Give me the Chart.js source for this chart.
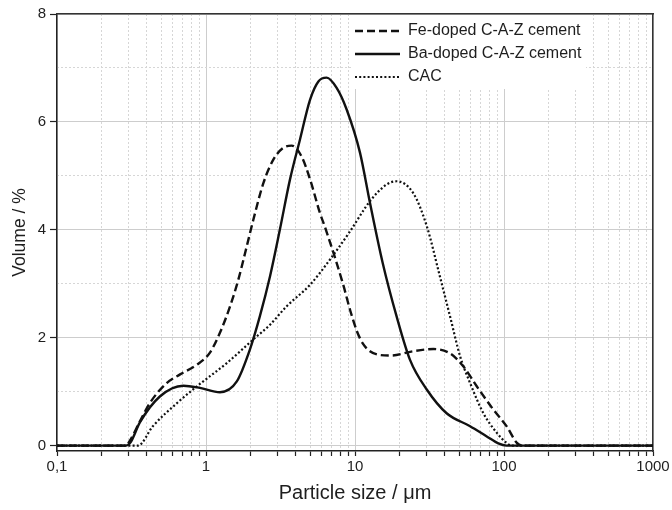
<!DOCTYPE html>
<html><head><meta charset="utf-8">
<script src="https://cdn.jsdelivr.net/npm/chart.js@4.4.1/dist/chart.umd.min.js"></script>
<style>html,body{margin:0;padding:0;background:#fff}#wrap{width:672px;height:510px}</style>
</head><body><div id="wrap"><canvas id="c" width="672" height="510"></canvas></div>
<script>
// ---- data (particle size in µm, volume in %) ----
const seriesLabels = ['Fe-doped C-A-Z cement', 'Ba-doped C-A-Z cement', 'CAC'];

const feSize   = [0.1, 0.29, 0.31, 0.36, 0.42, 0.545, 0.67, 0.87, 1.06, 1.24, 1.45, 1.65, 1.83, 2.08, 2.43, 2.83, 3.3, 3.76, 4.38, 5.0, 5.82, 6.38, 8.3, 9.3, 10.3, 11.3, 12.6, 14.7, 17.5, 24.6, 33.6, 43.4, 53.3, 65.6, 84.7, 104, 122, 132, 1000];
const feVolume = [0, 0, 0.1, 0.45, 0.79, 1.16, 1.32, 1.5, 1.72, 2.09, 2.58, 3.08, 3.57, 4.19, 4.87, 5.3, 5.52, 5.56, 5.36, 4.93, 4.31, 4.0, 3.0, 2.5, 2.12, 1.89, 1.75, 1.68, 1.67, 1.75, 1.79, 1.71, 1.47, 1.1, 0.67, 0.36, 0.05, 0, 0];

const baSize   = [0.1, 0.29, 0.31, 0.36, 0.49, 0.705, 0.91, 1.24, 1.61, 1.97, 2.3, 2.69, 3.13, 3.66, 4.27, 4.99, 5.68, 6.45, 7.53, 8.79, 10.8, 12.6, 15.3, 19, 23.4, 30.3, 41.2, 59.2, 76.6, 91.6, 104, 1000];
const baVolume = [0, 0, 0.05, 0.43, 0.91, 1.11, 1.07, 0.99, 1.19, 1.78, 2.4, 3.14, 4.0, 4.93, 5.67, 6.41, 6.75, 6.82, 6.63, 6.23, 5.43, 4.5, 3.4, 2.4, 1.59, 1.04, 0.6, 0.36, 0.17, 0.04, 0, 0];

const cacSize   = [0.1, 0.35, 0.44, 0.64, 0.87, 1.38, 2.1, 2.69, 3.47, 4.99, 6.8, 9.25, 12.6, 16.3, 19, 24.6, 30.3, 37.1, 43.4, 50.7, 59.2, 72.7, 89.3, 104, 112, 1000];
const cacVolume = [0, 0, 0.36, 0.79, 1.1, 1.53, 1.98, 2.24, 2.58, 2.98, 3.45, 3.97, 4.53, 4.84, 4.9, 4.68, 4.07, 3.14, 2.4, 1.66, 1.16, 0.6, 0.24, 0.05, 0, 0];

const xMajorTicks = [0.1, 1, 10, 100, 1000];
const xTickLabels = ['0,1', '1', '10', '100', '1000'];
const yMajorTicks = [0, 2, 4, 6, 8];
const yMinorTicks = [1, 3, 5, 7];
const xTitle = 'Particle size / μm';
const yTitle = 'Volume / %';

// ---- helpers ----
const xAllTicks = [];
xMajorTicks.slice(0, -1).forEach(d => { for (let k = 1; k < 10; k++) xAllTicks.push(+(d * k).toPrecision(6)); });
xAllTicks.push(xMajorTicks[xMajorTicks.length - 1]);
const majorIndex = v => xMajorTicks.findIndex(m => Math.abs(v / m - 1) < 1e-6);
const toPoints = (xs, ys) => xs.map((x, i) => ({x, y: ys[i]}));

const TXT = '#1e1e1e';
const GRID = '#cdcdcd';
const GRID_MINOR = '#d6d6d6';
const CLEAR = 'rgba(0,0,0,0)';
Chart.defaults.font.family = '"Liberation Sans", Arial, sans-serif';
Chart.defaults.color = TXT;

const legendPlace = {
  id: 'legendPlace',
  afterLayout(chart) {
    const lg = chart.legend; if (!lg) return;
    const ca = chart.chartArea;
    const w = lg.width;
    lg.left = ca.right - 305; lg.right = lg.left + w;
    lg.top = ca.top + 2; lg.bottom = ca.bottom;
  },
  beforeDatasetsDraw(chart) {
    const lg = chart.legend; if (!lg) return;
    const ctx = chart.ctx;
    ctx.save(); ctx.fillStyle = '#fff';
    ctx.fillRect(lg.left + 3, lg.top - 1, 235, 74);
    ctx.restore();
    lg.draw();
  }
};

const lineCommon = {borderColor: '#111', backgroundColor: '#111', pointRadius: 0, pointHoverRadius: 0, pointStyle: 'line', cubicInterpolationMode: 'monotone', fill: false};

new Chart(document.getElementById('c'), {
  type: 'line',
  data: {
    datasets: [
      Object.assign({label: seriesLabels[0], data: toPoints(feSize, feVolume), borderWidth: 2.4, borderDash: [8, 4]}, lineCommon),
      Object.assign({label: seriesLabels[1], data: toPoints(baSize, baVolume), borderWidth: 2.4, borderDash: []}, lineCommon),
      Object.assign({label: seriesLabels[2], data: toPoints(cacSize, cacVolume), borderWidth: 2.2, borderDash: [2, 2.2]}, lineCommon)
    ]
  },
  options: {
    responsive: false, animation: false, devicePixelRatio: 1,
    layout: {padding: {top: 14, right: 19, left: 0, bottom: 0}},
    plugins: {
      tooltip: {enabled: false},
      legend: {
        position: 'chartArea', align: 'start',
        labels: {
          usePointStyle: true, pointStyleWidth: 45, padding: 7, color: TXT, font: {size: 16},
          generateLabels: chart => Chart.defaults.plugins.legend.labels.generateLabels(chart).map(l => {
            const ds = chart.data.datasets[l.datasetIndex];
            return Object.assign(l, {lineDash: ds.borderDash || [], lineWidth: ds.borderWidth, strokeStyle: ds.borderColor, pointStyle: 'line'});
          })
        }
      }
    },
    scales: {
      x: {
        type: 'logarithmic', position: 'bottom', min: xMajorTicks[0], max: xMajorTicks[xMajorTicks.length - 1],
        afterBuildTicks: s => { s.ticks = xAllTicks.map(v => ({value: v})); },
        afterFit: s => { s.height = 59; s.paddingLeft = 0; s.paddingRight = 0; },
        ticks: {autoSkip: false, maxRotation: 0, minRotation: 0, padding: 2, color: TXT, font: {size: 15},
          callback: v => { const i = majorIndex(v); return i >= 0 ? xTickLabels[i] : ''; }},
        grid: {color: c => (c.tick && majorIndex(c.tick.value) >= 0) ? GRID : CLEAR, lineWidth: 1, tickColor: '#222', tickLength: 5, tickWidth: 1.2},
        border: {color: '#222', width: 1.5},
        title: {display: true, text: xTitle, color: TXT, font: {size: 20}, padding: {top: 0, bottom: 5}}
      },
      xg: {
        type: 'logarithmic', position: 'bottom', display: true, min: xMajorTicks[0], max: xMajorTicks[xMajorTicks.length - 1],
        afterBuildTicks: s => { s.ticks = xAllTicks.map(v => ({value: v})); },
        afterFit: s => { s.height = 0; s.paddingLeft = 0; s.paddingRight = 0; },
        ticks: {display: false},
        grid: {color: c => (c.tick && majorIndex(c.tick.value) < 0) ? GRID_MINOR : CLEAR, lineWidth: 1, drawTicks: false},
        border: {display: false, dash: [2, 2]}
      },
      y: {
        type: 'linear', position: 'left', min: -0.1, max: 8,
        afterBuildTicks: s => { s.ticks = yMajorTicks.map(v => ({value: v})); },
        afterFit: s => { s.width = 57; s.paddingTop = 0; s.paddingBottom = 0; },
        ticks: {padding: 4, color: TXT, font: {size: 15}, callback: v => String(v)},
        grid: {color: GRID, lineWidth: 1, tickColor: '#222', tickLength: 7, tickWidth: 1.2},
        border: {color: '#222', width: 1.5},
        title: {display: true, text: yTitle, color: TXT, font: {size: 17.5}, padding: {top: 10, bottom: 0}}
      },
      yg: {
        type: 'linear', position: 'left', display: true, min: -0.1, max: 8,
        afterBuildTicks: s => { s.ticks = yMinorTicks.map(v => ({value: v})); },
        afterFit: s => { s.width = 0; s.paddingTop = 0; s.paddingBottom = 0; },
        ticks: {display: false},
        grid: {color: GRID_MINOR, lineWidth: 1, drawTicks: false},
        border: {display: false, dash: [2, 2]}
      },
      xTop: {
        type: 'linear', position: 'top', display: true, min: 0, max: 1,
        afterFit: s => { s.height = 0; s.paddingLeft = 0; s.paddingRight = 0; },
        ticks: {display: false}, grid: {display: false, drawTicks: false},
        border: {display: true, color: '#333', width: 1.5}
      },
      yRight: {
        type: 'linear', position: 'right', display: true, min: 0, max: 1,
        afterFit: s => { s.width = 0; s.paddingTop = 0; s.paddingBottom = 0; },
        ticks: {display: false}, grid: {display: false, drawTicks: false},
        border: {display: true, color: '#333', width: 1.5}
      }
    }
  },
  plugins: [legendPlace]
});
</script>
</body></html>
